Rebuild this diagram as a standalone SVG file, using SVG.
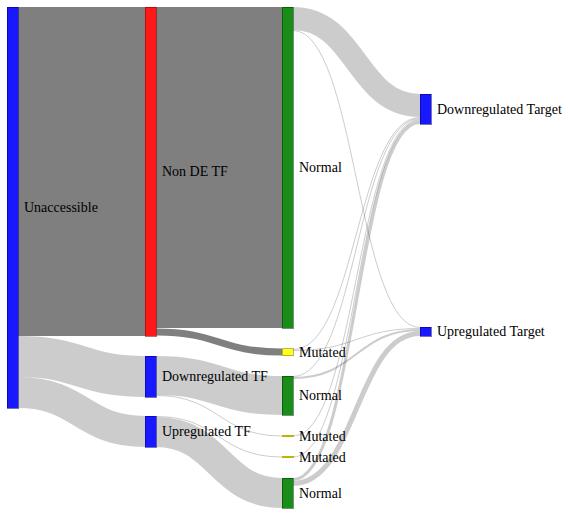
<svg xmlns="http://www.w3.org/2000/svg" width="568" height="519" viewBox="0 0 568 519">
<style>
.link{fill:none;stroke:#000;stroke-opacity:.2}
.link.hi{stroke-opacity:.5}
.node rect{shape-rendering:crispEdges;fill-opacity:.9;stroke-width:1;stroke-opacity:.55}
.node text{font-family:"Liberation Serif","Times New Roman",serif;font-size:14px;fill:#000}
.b rect{fill:#0000ff;stroke:#00007d}
.r rect{fill:#ff0000;stroke:#7d0000}
.g rect{fill:#008000;stroke:#003e00}
.y rect{fill:#ffff00;stroke:#7d7d00}
</style>
<rect width="568" height="519" fill="#fff"/>
<g id="links">
<path class="link hi" d="M18,171.5C81.5,171.5 81.5,171.5 145,171.5" stroke-width="329"/>
<path class="link" d="M18,356.5C81.5,356.5 81.5,376.5 145,376.5" stroke-width="41"/>
<path class="link" d="M18,392.5C81.5,392.5 81.5,431.5 145,431.5" stroke-width="31"/>
<path class="link hi" d="M156,167.5C219,167.5 219,167.5 282,167.5" stroke-width="321"/>
<path class="link hi" d="M156,332C219,332 219,352 282,352" stroke-width="7"/>
<path class="link" d="M156,375.5C219,375.5 219,395.5 282,395.5" stroke-width="39"/>
<path class="link" d="M156,395.5C219,395.5 219,436 282,436" stroke-width="1"/>
<path class="link" d="M156,416.5C219,416.5 219,457 282,457" stroke-width="1"/>
<path class="link" d="M156,432C219,432 219,493 282,493" stroke-width="30"/>
<path class="link" d="M293,18.5C356.5,18.5 356.5,105.5 420,105.5" stroke-width="23"/>
<path class="link" d="M293,30.5C356.5,30.5 356.5,327.5 420,327.5" stroke-width="1"/>
<path class="link" d="M293,349.5C356.5,349.5 356.5,117.5 420,117.5" stroke-width="1"/>
<path class="link" d="M293,350.5C356.5,350.5 356.5,328.5 420,328.5" stroke-width="1"/>
<path class="link" d="M293,376.5C356.5,376.5 356.5,118.5 420,118.5" stroke-width="1"/>
<path class="link" d="M293,378C356.5,378 356.5,330 420,330" stroke-width="2"/>
<path class="link" d="M293,436C356.5,436 356.5,119.5 420,119.5" stroke-width="1"/>
<path class="link" d="M293,457C356.5,457 356.5,120.5 420,120.5" stroke-width="1"/>
<path class="link" d="M293,479.5C356.5,479.5 356.5,122.5 420,122.5" stroke-width="3"/>
<path class="link" d="M293,483.5C356.5,483.5 356.5,333.5 420,333.5" stroke-width="5"/>
</g>
<g id="node-unaccessible" class="node b"><rect x="7" y="7" width="11" height="401"/><text x="24" y="207.5" dy=".35em">Unaccessible</text></g>
<g id="node-nondetf" class="node r"><rect x="145" y="7" width="11" height="329"/><text x="162" y="171.5" dy=".35em">Non DE TF</text></g>
<g id="node-downtf" class="node b"><rect x="145" y="356" width="11" height="41"/><text x="162" y="376.5" dy=".35em">Downregulated TF</text></g>
<g id="node-uptf" class="node b"><rect x="145" y="416" width="11" height="31"/><text x="162" y="431.5" dy=".35em">Upregulated TF</text></g>
<g id="node-normal1" class="node g"><rect x="282" y="7" width="11" height="321"/><text x="299" y="167.5" dy=".35em">Normal</text></g>
<g id="node-mutated1" class="node y"><rect x="282" y="348.5" width="11" height="7"/><text x="299" y="352" dy=".35em">Mutated</text></g>
<g id="node-normal2" class="node g"><rect x="282" y="376" width="11" height="39"/><text x="299" y="395.5" dy=".35em">Normal</text></g>
<g id="node-mutated2" class="node y"><rect x="282" y="435" width="11" height="1.5"/><text x="299" y="436" dy=".35em">Mutated</text></g>
<g id="node-mutated3" class="node y"><rect x="282" y="456" width="11" height="1.5"/><text x="299" y="457" dy=".35em">Mutated</text></g>
<g id="node-normal3" class="node g"><rect x="282" y="478" width="11" height="30"/><text x="299" y="493" dy=".35em">Normal</text></g>
<g id="node-downtarget" class="node b"><rect x="420" y="94" width="11" height="30"/><text x="437" y="109" dy=".35em">Downregulated Target</text></g>
<g id="node-uptarget" class="node b"><rect x="420" y="327" width="11" height="9"/><text x="437" y="331.5" dy=".35em">Upregulated Target</text></g>
</svg>
